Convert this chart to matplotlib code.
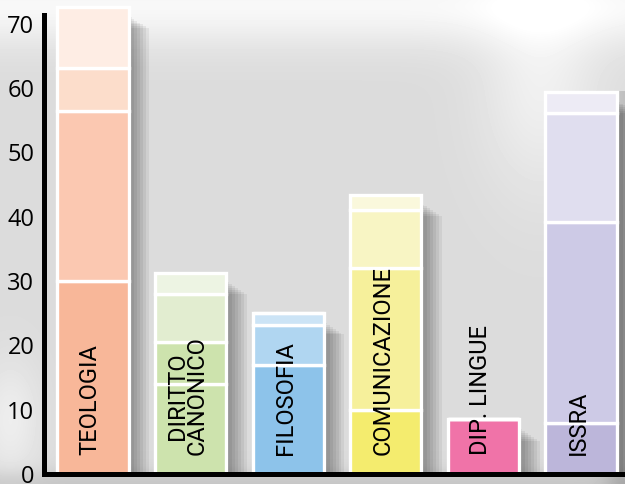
import matplotlib
matplotlib.use("Agg")
import matplotlib.pyplot as plt
import numpy as np

# stacked values (cumulative boundaries, turned into segments)
courses = ['TEOLOGIA', 'DIRITTO\nCANONICO', 'FILOSOFIA', 'COMUNICAZIONE', 'DIP. LINGUE', 'ISSRA']
seg1 = [30.0, 14.0, 17.0, 10.0, 8.5, 8.0]
seg2 = [26.5, 6.5, 6.1, 22.0, 0.0, 31.2]
seg3 = [6.6, 7.5, 1.9, 9.1, 0.0, 17.0]
seg4 = [9.5, 3.3, 0.0, 2.3, 0.0, 3.2]

colors1 = ['#F8B799', '#CDE3AD', '#8DC3EA', '#F4EC6E', '#F073A8', '#BCB6DA']
colors2 = ['#FBC8B1', '#CDE3AD', '#B0D6F1', '#F6F09B', '#F073A8', '#CDCAE6']
colors3 = ['#FCDDCB', '#E2EDD0', '#CCE4F6', '#F8F5C4', '#F073A8', '#E0DEEF']
colors4 = ['#FEEDE4', '#EDF4E3', '#CCE4F6', '#FAF8DC', '#F073A8', '#EDEBF5']

W, H = 625, 484
fig = plt.figure(figsize=(W / 100, H / 100), dpi=100)

# grey photo-like backdrop
bg = fig.add_axes([0, 0, 1, 1])
yy, xx = np.mgrid[0:H, 0:W] / 1.0
img = 0.86 + 0.11 * np.exp(-((yy - 5) / 40.0) ** 2)
img += 0.08 * np.exp(-(((xx - 540) / 60.0) ** 2 + ((yy - 80) / 110.0) ** 2))
img -= 0.12 * np.exp(-((xx - 625) / 20.0) ** 2) * (yy > 90)
img -= 0.08 * np.exp(-((yy - 484) / 15.0) ** 2)
img += 0.07 * np.exp(-(((xx - 10) / 30.0) ** 2 + ((yy - 420) / 60.0) ** 2))
bg.imshow(np.clip(img, 0, 1), cmap='gray', vmin=0, vmax=1, extent=[0, W, H, 0], aspect='auto')
bg.axis('off')

ax = fig.add_axes([44 / W, 10 / H, (W - 44) / W, 474 / H])
ax.patch.set_alpha(0)
x = np.arange(len(courses))
width = 0.73

totals = np.array(seg1) + np.array(seg2) + np.array(seg3) + np.array(seg4)
# soft drop shadows
for k in range(7):
    ax.bar(x + 0.03 + 0.03 * k, totals - 1.5 - 0.3 * k, width=width, color='black',
           alpha=0.06, linewidth=0, zorder=1)

bottom = np.zeros(len(courses))
for vals, cols in [(seg1, colors1), (seg2, colors2), (seg3, colors3), (seg4, colors4)]:
    v = np.array(vals)
    ax.bar(x, v, width=width, bottom=bottom, color=cols, edgecolor='white',
           linewidth=2.4, zorder=2)
    bottom += v

for i, name in enumerate(courses):
    ax.text(x[i] - 0.03, 2.9, name, rotation=90, ha='center', va='bottom',
            fontsize=17, family=['Roboto', 'DejaVu Sans'],
            color='black', linespacing=0.82, zorder=3)

ax.set_xlim(-0.502, 5.45)
ax.set_ylim(0, 73.7)
ax.set_xticks([])
ax.set_yticks(range(0, 80, 10))
ax.tick_params(axis='y', length=0, pad=7, labelsize=17)
for lab in ax.get_yticklabels():
    lab.set_family(['Open Sans', 'DejaVu Sans'])
ax.spines['top'].set_visible(False)
ax.spines['right'].set_visible(False)
ax.spines['left'].set_linewidth(3.6)
ax.spines['bottom'].set_linewidth(3.6)
ax.spines['left'].set_bounds(0, 71.4)
ax.spines['left'].set_zorder(4)
ax.spines['bottom'].set_zorder(4)

fig.savefig('out.png', dpi=100)
